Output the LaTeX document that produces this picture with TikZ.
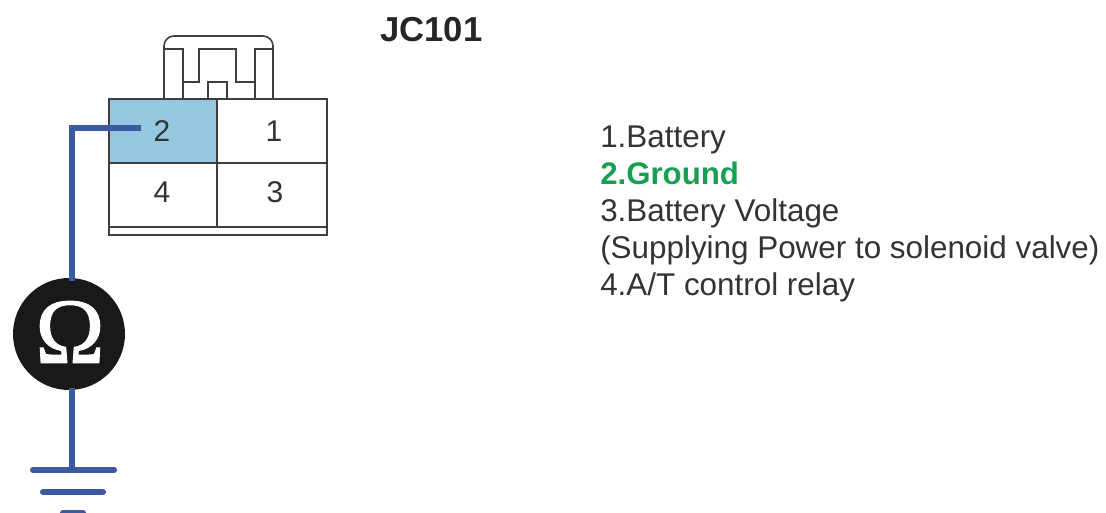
\documentclass[tikz,border=0pt]{standalone}
\usepackage{fontspec}
\setmainfont{Liberation Sans}
\newfontfamily\omegafont[FakeBold=1]{Liberation Serif}
\definecolor{wireblue}{HTML}{3C5AA0}
\definecolor{pinblue}{HTML}{94C8E0}
\definecolor{linegray}{HTML}{3F3F3F}
\definecolor{txtgray}{HTML}{333333}
\definecolor{grn}{HTML}{17A04F}
\tikzset{
  x=0.75pt,y=-0.75pt,
  housing/.style={draw=linegray,line width=1.4pt},
  latch/.style={draw=linegray,line width=1.2pt},
  wire/.style={draw=wireblue,line width=5pt},
  pin/.style={font=\fontsize{22.5}{25}\selectfont,text=txtgray,inner sep=0pt},
  legend/.style={font=\fontsize{23.55}{25}\selectfont,text=txtgray,inner sep=0pt,anchor=base west},
  groundbar/.style={draw=wireblue,line width=4.6pt,line cap=round},
}
\begin{document}
\begin{tikzpicture}
\useasboundingbox (0,0) rectangle (1106,513);
\fill[pinblue] (109,99) rectangle (217,163);
\draw[housing] (109,99) rectangle (327,235);
\draw[housing] (109,163) -- (327,163);
\draw[housing] (109,227) -- (327,227);
\draw[housing] (217,99) -- (217,227);
% latch
\draw[latch,rounded corners=7.5pt] (164,99) -- (164,36) -- (273,36) -- (273,99);
\draw[latch] (164,49) -- (183,49) -- (183,99);
\draw[latch] (183,82) -- (199,82) -- (199,49) -- (236,49) -- (236,82) -- (255,82);
\draw[latch] (273,49) -- (255,49) -- (255,99);
\draw[latch] (208,99) -- (208,82) -- (227,82) -- (227,99);
% pins
\node[pin] (p2) at (162,131) {2};
\node[pin] (p1) at (274,131) {1};
\node[pin] (p4) at (162,192) {4};
\node[pin] (p3) at (275,192) {3};
% wire
\coordinate (wireend) at (141,128);
\coordinate (corner) at (72,128);
\node[circle,fill=black!90,minimum size=84pt,inner sep=0pt] (ohm) at (69,334) {};
\coordinate (ohmtop) at (72,281);
\coordinate (ohmbot) at (72,388);
\coordinate (g1) at (72,470);
\draw[wire,line join=miter] (wireend) -- (corner) -- (ohmtop);
\draw[wire] (ohmbot) -- (g1);
\node[text=white,inner sep=0pt,font=\omegafont\fontsize{70}{80}\selectfont] (omega) at (70,332) {Ω};
\coordinate (g1a) at (33,470); \coordinate (g1b) at (114,470);
\coordinate (g2a) at (43,492); \coordinate (g2b) at (103,492);
\coordinate (g3a) at (63,513); \coordinate (g3b) at (83,513);
\draw[groundbar] (g1a) -- (g1b);
\draw[groundbar] (g2a) -- (g2b);
\begin{scope}
\clip (0,0) rectangle (1106,513);
\draw[groundbar] (g3a) -- (g3b);
\end{scope}
% text
\node[inner sep=0pt,anchor=base west,font=\bfseries\fontsize{26}{30}\selectfont,text=black!85] (title) at (380,42) {JC101};
\node[legend] (l1) at (600,148) {1.Battery};
\node[legend,font=\bfseries\fontsize{23.4}{25}\selectfont,text=grn] (l2) at (600,185) {2.Ground};
\node[legend] (l3) at (600,222) {3.Battery Voltage};
\node[legend] (l3b) at (600,259) {(Supplying Power to solenoid valve)};
\node[legend] (l4) at (600,296) {4.A/T control relay};
\end{tikzpicture}
\end{document}
